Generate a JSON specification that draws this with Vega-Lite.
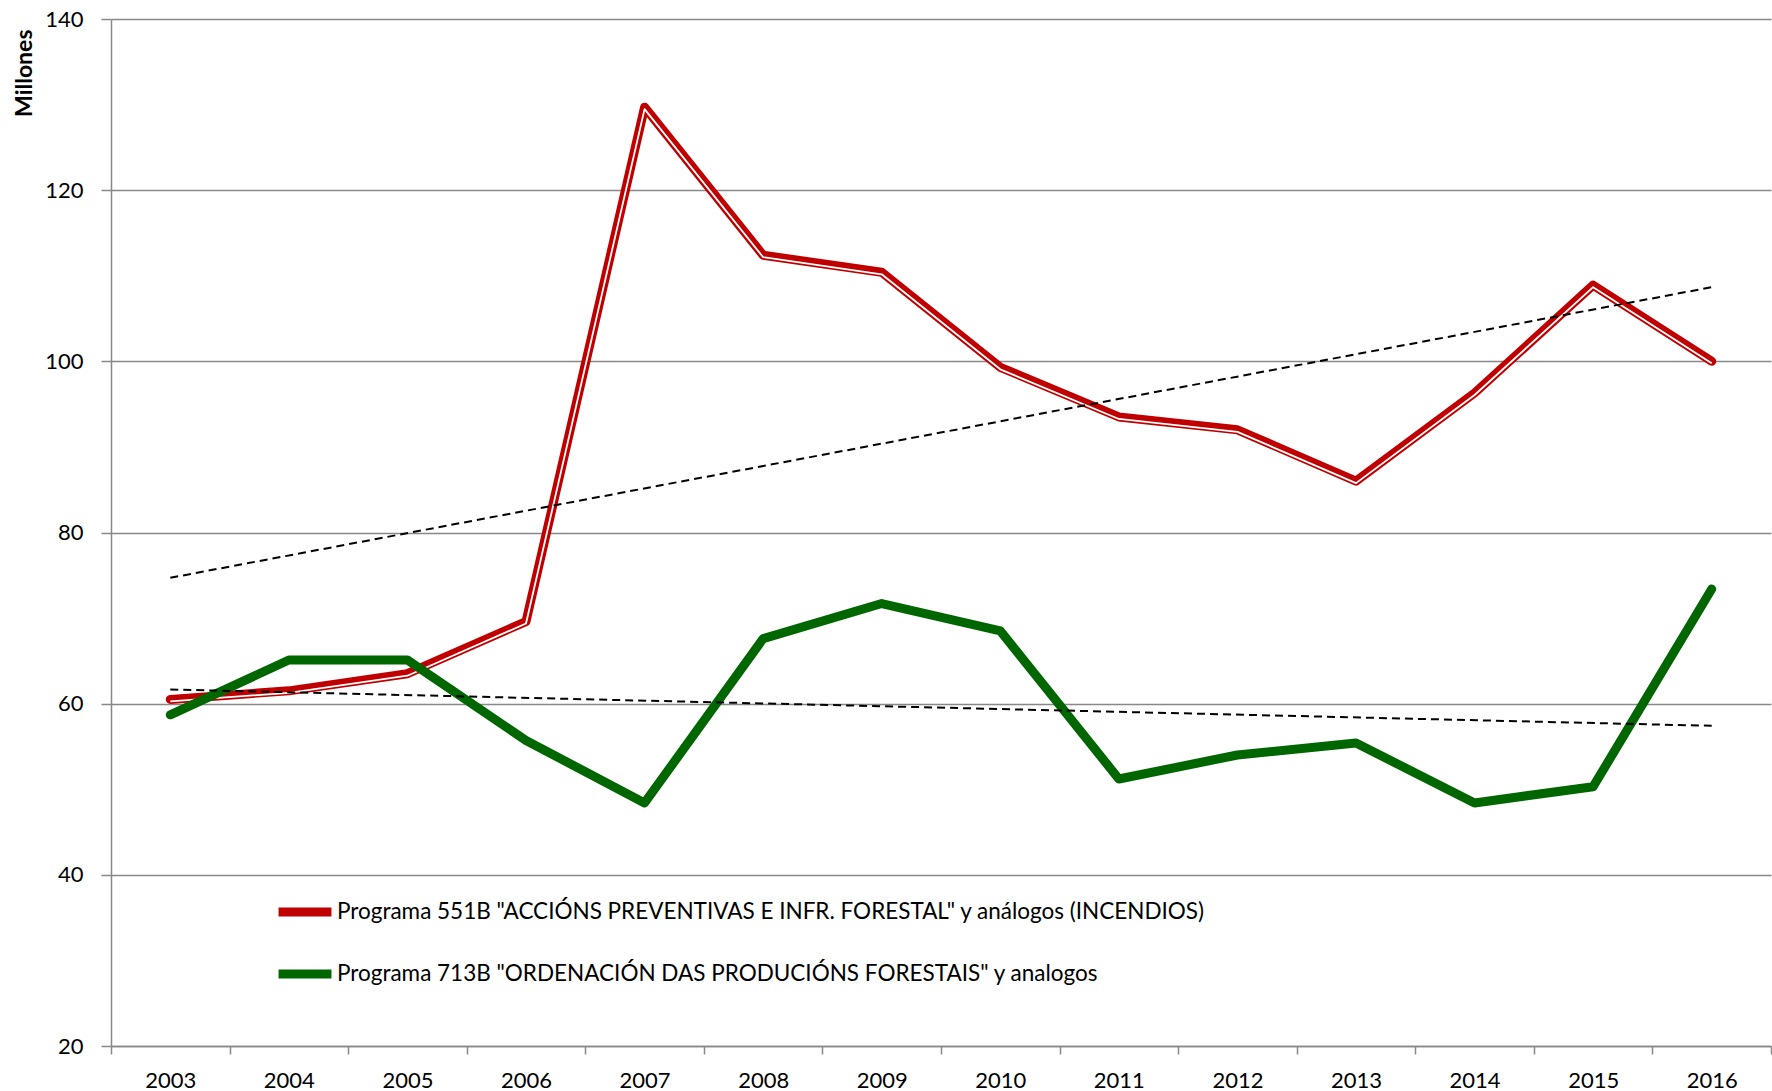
{
  "$schema": "https://vega.github.io/schema/vega-lite/v6.json",
  "width": 1660,
  "height": 1027,
  "autosize": {"type": "none"},
  "padding": {"left": 111, "top": 19, "right": 1, "bottom": 45},
  "background": "white",
  "config": {
    "font": "Lato",
    "view": {"stroke": null},
    "axis": {"labelFont": "Lato", "labelFontSize": 22, "labelColor": "#000000", "domainColor": "#888888", "tickColor": "#888888", "domainWidth": 1.5, "tickWidth": 1.5}
  },
  "datasets": {
    "series": [
      {"year": 2003, "value": 60.5, "serie": "Programa 551B \"ACCIÓNS  PREVENTIVAS  E  INFR.  FORESTAL\" y análogos (INCENDIOS)"},
      {"year": 2004, "value": 61.5, "serie": "Programa 551B \"ACCIÓNS  PREVENTIVAS  E  INFR.  FORESTAL\" y análogos (INCENDIOS)"},
      {"year": 2005, "value": 63.5, "serie": "Programa 551B \"ACCIÓNS  PREVENTIVAS  E  INFR.  FORESTAL\" y análogos (INCENDIOS)"},
      {"year": 2006, "value": 69.6, "serie": "Programa 551B \"ACCIÓNS  PREVENTIVAS  E  INFR.  FORESTAL\" y análogos (INCENDIOS)"},
      {"year": 2007, "value": 129.7, "serie": "Programa 551B \"ACCIÓNS  PREVENTIVAS  E  INFR.  FORESTAL\" y análogos (INCENDIOS)"},
      {"year": 2008, "value": 112.4, "serie": "Programa 551B \"ACCIÓNS  PREVENTIVAS  E  INFR.  FORESTAL\" y análogos (INCENDIOS)"},
      {"year": 2009, "value": 110.4, "serie": "Programa 551B \"ACCIÓNS  PREVENTIVAS  E  INFR.  FORESTAL\" y análogos (INCENDIOS)"},
      {"year": 2010, "value": 99.3, "serie": "Programa 551B \"ACCIÓNS  PREVENTIVAS  E  INFR.  FORESTAL\" y análogos (INCENDIOS)"},
      {"year": 2011, "value": 93.5, "serie": "Programa 551B \"ACCIÓNS  PREVENTIVAS  E  INFR.  FORESTAL\" y análogos (INCENDIOS)"},
      {"year": 2012, "value": 92.0, "serie": "Programa 551B \"ACCIÓNS  PREVENTIVAS  E  INFR.  FORESTAL\" y análogos (INCENDIOS)"},
      {"year": 2013, "value": 86.0, "serie": "Programa 551B \"ACCIÓNS  PREVENTIVAS  E  INFR.  FORESTAL\" y análogos (INCENDIOS)"},
      {"year": 2014, "value": 96.3, "serie": "Programa 551B \"ACCIÓNS  PREVENTIVAS  E  INFR.  FORESTAL\" y análogos (INCENDIOS)"},
      {"year": 2015, "value": 108.9, "serie": "Programa 551B \"ACCIÓNS  PREVENTIVAS  E  INFR.  FORESTAL\" y análogos (INCENDIOS)"},
      {"year": 2016, "value": 100.0, "serie": "Programa 551B \"ACCIÓNS  PREVENTIVAS  E  INFR.  FORESTAL\" y análogos (INCENDIOS)"},
      {"year": 2003, "value": 58.7, "serie": "Programa 713B \"ORDENACIÓN  DAS PRODUCIÓNS  FORESTAIS\"  y analogos"},
      {"year": 2004, "value": 65.1, "serie": "Programa 713B \"ORDENACIÓN  DAS PRODUCIÓNS  FORESTAIS\"  y analogos"},
      {"year": 2005, "value": 65.1, "serie": "Programa 713B \"ORDENACIÓN  DAS PRODUCIÓNS  FORESTAIS\"  y analogos"},
      {"year": 2006, "value": 55.7, "serie": "Programa 713B \"ORDENACIÓN  DAS PRODUCIÓNS  FORESTAIS\"  y analogos"},
      {"year": 2007, "value": 48.4, "serie": "Programa 713B \"ORDENACIÓN  DAS PRODUCIÓNS  FORESTAIS\"  y analogos"},
      {"year": 2008, "value": 67.6, "serie": "Programa 713B \"ORDENACIÓN  DAS PRODUCIÓNS  FORESTAIS\"  y analogos"},
      {"year": 2009, "value": 71.7, "serie": "Programa 713B \"ORDENACIÓN  DAS PRODUCIÓNS  FORESTAIS\"  y analogos"},
      {"year": 2010, "value": 68.5, "serie": "Programa 713B \"ORDENACIÓN  DAS PRODUCIÓNS  FORESTAIS\"  y analogos"},
      {"year": 2011, "value": 51.2, "serie": "Programa 713B \"ORDENACIÓN  DAS PRODUCIÓNS  FORESTAIS\"  y analogos"},
      {"year": 2012, "value": 54.0, "serie": "Programa 713B \"ORDENACIÓN  DAS PRODUCIÓNS  FORESTAIS\"  y analogos"},
      {"year": 2013, "value": 55.4, "serie": "Programa 713B \"ORDENACIÓN  DAS PRODUCIÓNS  FORESTAIS\"  y analogos"},
      {"year": 2014, "value": 48.4, "serie": "Programa 713B \"ORDENACIÓN  DAS PRODUCIÓNS  FORESTAIS\"  y analogos"},
      {"year": 2015, "value": 50.3, "serie": "Programa 713B \"ORDENACIÓN  DAS PRODUCIÓNS  FORESTAIS\"  y analogos"},
      {"year": 2016, "value": 73.4, "serie": "Programa 713B \"ORDENACIÓN  DAS PRODUCIÓNS  FORESTAIS\"  y analogos"}
    ]
  },
  "data": {"name": "series"},
  "encoding": {
    "x": {
      "field": "year", "type": "ordinal", "bandPosition": 0.5,
      "scale": {"type": "band", "paddingInner": 0, "paddingOuter": 0, "domain": [2003, 2004, 2005, 2006, 2007, 2008, 2009, 2010, 2011, 2012, 2013, 2014, 2015, 2016]},
      "axis": {"title": null, "labelAngle": 0, "tickBand": "extent", "tickSize": 8, "labelPadding": 16, "grid": false}
    },
    "y": {
      "field": "value", "type": "quantitative",
      "scale": {"domain": [20, 140], "nice": false, "zero": false},
      "axis": {"title": "Millones", "titleFont": "Lato", "titleFontSize": 23, "titleFontWeight": "bold", "titleColor": "#000000", "titleAnchor": "end", "titleAlign": "right", "titleBaseline": "middle", "titleX": -87, "titleY": 10, "titleAngle": 270, "values": [20, 40, 60, 80, 100, 120, 140], "tickSize": 10, "labelPadding": 18, "grid": true, "gridColor": "#888888", "gridWidth": 1.5}
    }
  },
  "layer": [
    {
      "transform": [{"filter": "indexof(datum.serie, '551B') >= 0"}],
      "mark": {"type": "line", "strokeWidth": 9, "strokeJoin": "round", "strokeCap": "round"},
      "encoding": {
        "stroke": {
          "field": "serie", "type": "nominal",
          "scale": {"domain": ["Programa 551B \"ACCIÓNS  PREVENTIVAS  E  INFR.  FORESTAL\" y análogos (INCENDIOS)", "Programa 713B \"ORDENACIÓN  DAS PRODUCIÓNS  FORESTAIS\"  y analogos"], "range": ["#C00000", "#006600"]},
          "legend": {"title": null, "orient": "none", "legendX": 163, "legendY": 862, "symbolType": "stroke", "symbolSize": 2800, "symbolStrokeWidth": 9, "labelFont": "Lato", "labelFontSize": 22.5, "labelColor": "#000000", "labelLimit": 2000, "labelOffset": 1, "rowPadding": 13, "padding": 0}
        }
      }
    },
    {
      "transform": [{"filter": "indexof(datum.serie, '551B') >= 0"}],
      "mark": {"type": "line", "strokeWidth": 1.8, "color": "#ffffff", "yOffset": 2, "strokeJoin": "round"},
      "encoding": {}
    },
    {
      "transform": [{"filter": "indexof(datum.serie, '713B') >= 0"}],
      "mark": {"type": "line", "strokeWidth": 9, "strokeJoin": "round", "strokeCap": "round"},
      "encoding": {"stroke": {"field": "serie", "type": "nominal"}}
    },
    {
      "transform": [{"regression": "value", "on": "year", "groupby": ["serie"], "extent": [2003, 2016]}],
      "mark": {"type": "line", "color": "#000000", "strokeWidth": 2, "strokeDash": [8, 5]},
      "encoding": {"detail": {"field": "serie"}}
    }
  ]
}
